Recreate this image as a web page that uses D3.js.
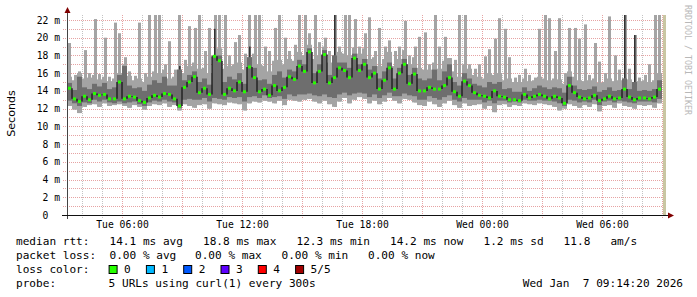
<!DOCTYPE html>
<html><head><meta charset="utf-8">
<script src="https://cdn.jsdelivr.net/npm/d3@7/dist/d3.min.js"></script>
<style>body{margin:0;background:#fff}svg{display:block}</style>
</head><body>
<svg id="c" width="697" height="297"></svg>
<script>
// ---- data (ms), one value per 15-minute step starting Tue 03:15 ----
const stepMinutes = 15;
const startTime = new Date(2026, 0, 6, 3, 15);
const endTime = new Date(2026, 0, 7, 9, 15);

const median = [
14.3,13.1,12.8,13.4,13.0,13.7,13.5,13.6,13.1,13.1,15.0,13.1,13.4,13.3,12.9,12.7,13.2,13.5,13.3,13.7,13.6,13.1,12.3,14.4,
15.0,15.6,13.8,14.3,13.6,17.9,17.4,13.6,14.3,14.0,15.0,13.9,16.7,15.5,13.9,14.2,13.5,14.6,14.0,14.4,15.6,15.3,16.8,16.2,
18.4,14.9,16.2,18.1,14.9,15.5,16.6,16.3,15.5,17.7,16.3,17.0,15.5,16.0,14.2,15.2,16.6,14.2,16.0,17.0,14.8,15.9,14.0,14.0,
14.4,14.2,14.2,14.6,15.5,13.9,13.4,15.1,14.6,13.8,13.5,13.4,13.2,14.0,13.4,13.3,13.0,13.0,12.9,13.6,13.2,13.4,13.6,13.4,
13.1,13.4,13.2,12.6,14.6,13.8,13.3,13.1,13.2,13.5,12.9,13.1,13.4,13.1,13.2,14.2,13.3,13.0,13.2,13.2,13.1,13.3,14.2];

const smokeMin = [
12.3,11.9,11.5,12.2,12.4,12.5,12.2,12.6,12.3,12.4,12.5,12.3,12.1,12.4,12.2,11.9,12.3,12.5,12.4,12.6,12.2,12.4,11.8,12.5,
12.3,12.1,12.4,12.5,12.0,12.6,12.5,12.4,12.7,12.6,12.5,11.8,12.6,12.8,12.7,12.9,12.8,12.6,12.9,12.4,13.0,12.9,12.8,13.0,
13.1,12.8,12.6,12.9,12.5,12.2,12.8,13.2,12.6,13.0,13.3,13.1,12.6,12.9,12.5,12.8,13.2,12.9,12.6,13.1,13.0,12.7,12.4,12.3,
12.8,12.5,12.2,12.6,12.9,12.4,12.1,12.6,12.3,12.4,12.5,12.0,12.3,11.6,12.4,12.5,12.2,12.4,12.3,12.6,12.5,12.4,12.6,12.5,
12.4,12.2,11.8,12.0,12.5,12.3,12.1,12.4,12.2,12.5,11.7,12.3,12.4,12.1,12.6,12.3,12.2,12.0,12.4,12.3,12.4,12.1,12.6];

const smokeInnerLow = [
12.9,12.6,12.3,12.7,12.6,13.0,12.8,13.0,12.7,12.6,12.8,12.6,12.7,12.8,12.5,12.3,12.7,12.9,12.8,13.0,12.8,12.7,12.1,13.0,
13.1,13.0,13.0,13.2,12.8,13.2,13.1,13.0,13.3,13.2,13.3,12.8,13.3,13.4,13.2,13.5,13.2,13.3,13.4,13.1,13.6,13.4,13.6,13.6,
13.7,13.5,13.4,13.6,13.3,13.2,13.6,13.8,13.5,13.7,13.8,13.7,13.3,13.6,13.2,13.5,13.8,13.4,13.4,13.7,13.5,13.4,13.0,13.0,
13.4,13.2,13.0,13.3,13.5,13.0,12.8,13.2,13.0,13.0,13.0,12.7,12.9,12.6,12.9,12.9,12.7,12.8,12.7,13.0,12.9,12.9,13.0,12.9,
12.9,12.8,12.6,12.3,13.0,12.9,12.7,12.8,12.7,13.0,12.4,12.8,12.9,12.7,12.9,12.8,12.7,12.6,12.8,12.8,12.8,12.7,13.1];

const smokeInnerHigh = [
14.9,14.1,15.6,14.4,14.2,14.8,14.5,14.9,14.2,14.4,15.8,16.8,14.6,14.3,14.4,14.0,14.7,15.2,14.9,15.6,14.6,14.6,16.8,15.2,
15.8,16.2,15.0,15.4,14.7,21.0,18.0,15.0,15.6,15.3,16.0,14.8,19.0,16.6,15.2,15.3,14.8,15.8,16.2,15.5,16.4,16.2,17.5,17.0,
18.8,16.0,17.0,18.6,15.8,22.8,17.2,17.2,16.6,18.2,17.0,17.6,16.4,16.8,15.4,16.2,17.2,15.4,16.6,17.6,15.8,16.6,15.4,15.2,
15.4,16.4,15.2,16.2,17.0,15.0,14.6,16.0,15.4,14.8,14.6,14.4,15.0,14.8,15.0,14.2,14.3,13.9,13.9,14.4,14.0,14.3,14.6,14.4,
14.2,14.4,14.3,13.8,15.6,14.6,14.2,14.1,14.2,14.5,13.9,14.1,14.4,14.0,14.1,22.8,14.2,20.3,14.0,14.1,14.0,14.2,15.2];

// top of the light smoke body
const smokeMax = [
15.6,15.2,16.0,15.4,15.5,15.8,15.3,15.6,15.1,15.4,16.0,17.0,15.7,15.2,15.4,15.0,15.6,16.2,16.0,16.4,15.4,15.6,16.4,16.0,
16.8,17.2,16.5,16.6,16.0,18.0,18.8,16.5,16.8,17.0,17.2,16.4,17.8,18.2,17.0,16.8,16.2,17.4,17.5,17.0,17.6,17.4,18.4,18.0,
19.2,17.6,18.0,19.0,17.2,18.0,18.4,18.2,18.0,18.9,18.2,18.8,17.6,17.8,16.8,17.6,18.4,16.8,17.6,18.6,17.0,17.8,16.6,16.4,
16.4,17.2,16.5,17.4,17.7,16.2,15.6,17.0,16.5,15.8,15.6,15.4,16.0,15.8,16.0,15.2,15.4,15.0,15.0,15.4,15.1,15.2,15.6,15.4,
15.2,15.4,15.3,14.8,16.2,15.6,15.2,15.1,15.2,15.4,14.9,15.0,15.4,15.1,15.2,15.4,15.3,15.0,15.1,15.2,15.0,15.2,16.0];

// highest thin spike within each step
const smokePeak = [
19.4,15.8,16.2,18.6,16.0,22.1,15.9,20.0,15.6,21.7,20.5,17.8,16.2,15.7,21.7,16.0,23.0,23.0,23.0,17.0,19.6,16.4,23.0,17.5,
21.3,21.1,23.0,18.5,21.1,23.0,23.0,23.0,18.0,19.5,20.3,18.2,23.0,23.0,23.0,19.0,18.5,21.1,23.0,20.0,18.5,19.2,23.0,23.0,
20.5,23.0,19.5,20.0,18.5,23.0,19.0,23.0,23.0,22.1,19.0,20.5,22.3,18.5,21.1,19.0,19.7,18.5,19.0,21.9,18.0,19.0,20.1,20.6,
17.0,23.0,19.0,20.1,17.7,17.5,23.0,23.0,17.0,16.5,17.0,17.9,18.7,19.9,22.2,21.0,17.8,15.5,15.8,16.5,15.8,15.5,21.0,23.0,
22.2,18.5,22.2,16.0,21.1,21.1,19.9,21.5,15.8,19.4,17.3,16.0,22.4,18.0,16.4,23.0,16.5,20.3,15.5,15.8,17.0,23.0,23.0];

const yTickValues = [0,2,4,6,8,10,12,14,16,18,20,22];
const xTickTimes = [new Date(2026,0,6,6), new Date(2026,0,6,12), new Date(2026,0,6,18), new Date(2026,0,7,0), new Date(2026,0,7,6)];

const rttLegend = ["median rtt:", "14.1 ms avg", "18.8 ms max", "12.3 ms min", "14.2 ms now", "1.2 ms sd", "11.8", "am/s"];
const lossLegend = ["packet loss:", "0.00 % avg", "0.00 % max", "0.00 % min", "0.00 % now"];
const lossColorLabels = ["0", "1", "2", "3", "4", "5/5"];
const lossColors = ["#26ff00", "#00b8ff", "#0059ff", "#5e00ff", "#ff0000", "#a00000"];
const probeLegend = ["probe:", "5 URLs using curl(1) every 300s"];
const stampText = "Wed Jan  7 09:14:20 2026";

// ---- drawing ----
const svg = d3.select("#c");
const mono = "'DejaVu Sans Mono', monospace";
const x = d3.scaleTime().domain([startTime, endTime]).range([67, 667]);
const y = d3.scaleLinear().domain([0, 22.56]).range([215, 15]);

svg.append("rect").attr("width", 697).attr("height", 297).attr("fill", "#fff");

// grid (behind data)
const grid = svg.append("g");
d3.range(1, 23).forEach(v => {
  grid.append("line").attr("x1", 63).attr("x2", 667).attr("y1", Math.round(y(v)) + 0.5).attr("y2", Math.round(y(v)) + 0.5)
    .attr("stroke", "#e08c8c").attr("stroke-opacity", 0.8).attr("stroke-dasharray", "1,1");
});
d3.timeHour.range(d3.timeHour.ceil(startTime), endTime).forEach(h => {
  const major = h.getHours() % 3 === 0;
  grid.append("line").attr("x1", Math.round(x(h)) + 0.5).attr("x2", Math.round(x(h)) + 0.5).attr("y1", 15).attr("y2", 218)
    .attr("stroke", major ? "#e08c8c" : "#b4b4b4").attr("stroke-opacity", 0.8).attr("stroke-dasharray", "1,1");
});

svg.append("clipPath").attr("id", "pc").append("rect")
  .attr("x", 67).attr("y", 15).attr("width", 600).attr("height", 200);

const plot = svg.append("g").attr("clip-path", "url(#pc)");
const idx = d3.range(median.length);
const t0 = i => d3.timeMinute.offset(startTime, i * stepMinutes);
const t1 = i => d3.timeMinute.offset(startTime, (i + 1) * stepMinutes);
const sx = i => x(t0(i));
const sw = i => x(t1(i)) - x(t0(i));

// thin light spikes
plot.selectAll("rect.p").data(idx).join("rect").attr("class", "p")
  .attr("x", i => sx(i) + 1 + (i % 2)).attr("width", 3)
  .attr("y", i => y(smokePeak[i])).attr("height", i => y(smokeMin[i]) - y(smokePeak[i]))
  .attr("fill", "#a4a4a4");
// light body
plot.selectAll("rect.l").data(idx).join("rect").attr("class", "l")
  .attr("x", sx).attr("width", sw)
  .attr("y", i => y(smokeMax[i])).attr("height", i => y(smokeMin[i]) - y(smokeMax[i]))
  .attr("fill", "#a4a4a4");
// dark inner band (within the body)
plot.selectAll("rect.d").data(idx).join("rect").attr("class", "d")
  .attr("x", sx).attr("width", sw)
  .attr("y", i => y(Math.min(smokeInnerHigh[i], smokeMax[i])))
  .attr("height", i => y(smokeInnerLow[i]) - y(Math.min(smokeInnerHigh[i], smokeMax[i])))
  .attr("fill", "#6e6e6e");
// dark thin spikes above the body
plot.selectAll("rect.ds").data(idx.filter(i => smokeInnerHigh[i] > smokeMax[i])).join("rect").attr("class", "ds")
  .attr("x", i => sx(i) + 2).attr("width", 1.6)
  .attr("y", i => y(smokeInnerHigh[i])).attr("height", i => y(smokeMax[i]) - y(smokeInnerHigh[i]))
  .attr("fill", "#333");
// median connectors + median marks
plot.selectAll("line.k").data(idx.slice(1)).join("line").attr("class", "k")
  .attr("x1", sx).attr("x2", sx)
  .attr("y1", i => y(median[i - 1])).attr("y2", i => y(median[i]))
  .attr("stroke", "#1e1e1e").attr("stroke-width", 1.4);
plot.selectAll("rect.m").data(idx).join("rect").attr("class", "m")
  .attr("x", i => sx(i) + 1).attr("width", 3)
  .attr("y", i => y(median[i]) - 1.5).attr("height", 3)
  .attr("fill", "#26ff00");

// tan bar at the right end
svg.append("rect").attr("x", 663).attr("y", 15).attr("width", 3).attr("height", 200).attr("fill", "#c9c6a2");

// axes lines + arrows
svg.append("line").attr("x1", 67.5).attr("x2", 67.5).attr("y1", 219).attr("y2", 12).attr("stroke", "#444");
svg.append("line").attr("x1", 62).attr("x2", 669).attr("y1", 215.5).attr("y2", 215.5).attr("stroke", "#111");
svg.append("path").attr("d", "M64.5,13 L70.5,13 L67.5,7 Z").attr("fill", "#800000");
svg.append("path").attr("d", "M668,212.5 L668,218.5 L674,215.5 Z").attr("fill", "#800000");

// y axis labels
const yAxis = svg.append("g").attr("transform", "translate(60,0)")
  .call(d3.axisLeft(y).tickValues(yTickValues).tickSize(0).tickPadding(0)
    .tickFormat(v => v === 0 ? "0" : v + " m"));
yAxis.select(".domain").remove();
yAxis.selectAll("text").attr("font-family", mono).attr("font-size", "9.7px").attr("fill", "#000")
  .attr("x", v => v === 0 ? -11.7 : 0);

// x axis labels
const xAxis = svg.append("g").attr("transform", "translate(0,215)")
  .call(d3.axisBottom(x).tickValues(xTickTimes).tickSize(0).tickPadding(6.5)
    .tickFormat(d3.timeFormat("%a %H:%M")));
xAxis.select(".domain").remove();
xAxis.selectAll("text").attr("font-family", mono).attr("font-size", "9.7px").attr("fill", "#000");

// y title
svg.append("text").attr("transform", "translate(11,113.5) rotate(-90)")
  .attr("text-anchor", "middle").attr("dominant-baseline", "central")
  .attr("font-family", "'DejaVu Sans', sans-serif").attr("font-size", "11.1px").text("Seconds");

// watermark
svg.append("text").attr("transform", "translate(684.5,5) rotate(90)")
  .attr("font-family", mono).attr("font-size", "8.3px").attr("fill", "#b8b8b8")
  .text("RRDTOOL / TOBI OETIKER");

// legend
const lg = svg.append("g").attr("font-family", mono).attr("font-size", "11.1px").attr("fill", "#000");
const rttX = [16, 109.5, 203, 296.5, 390, 483.5, 563.6, 610.4];
rttLegend.forEach((s, i) => lg.append("text").attr("x", rttX[i]).attr("y", 245).text(s));
const lossX = [16, 109.5, 195, 281.5, 368];
lossLegend.forEach((s, i) => lg.append("text").attr("x", lossX[i]).attr("y", 259).text(s));
lg.append("text").attr("x", 16).attr("y", 273).text("loss color:");
lossColorLabels.forEach((s, i) => {
  const bx = 108.6 + i * 37.3;
  lg.append("rect").attr("x", bx + 0.5).attr("y", 265.5).attr("width", 8).attr("height", 8)
    .attr("fill", lossColors[i]).attr("stroke", "#000").attr("stroke-width", 1);
  lg.append("text").attr("x", bx + 15.5).attr("y", 273).text(s);
});
lg.append("text").attr("x", 16).attr("y", 287).text(probeLegend[0]);
lg.append("text").attr("x", 108.6).attr("y", 287).text(probeLegend[1]);
lg.append("text").attr("x", 683).attr("y", 287).attr("text-anchor", "end")
  .style("white-space", "pre").text(stampText);
</script>
</body></html>
